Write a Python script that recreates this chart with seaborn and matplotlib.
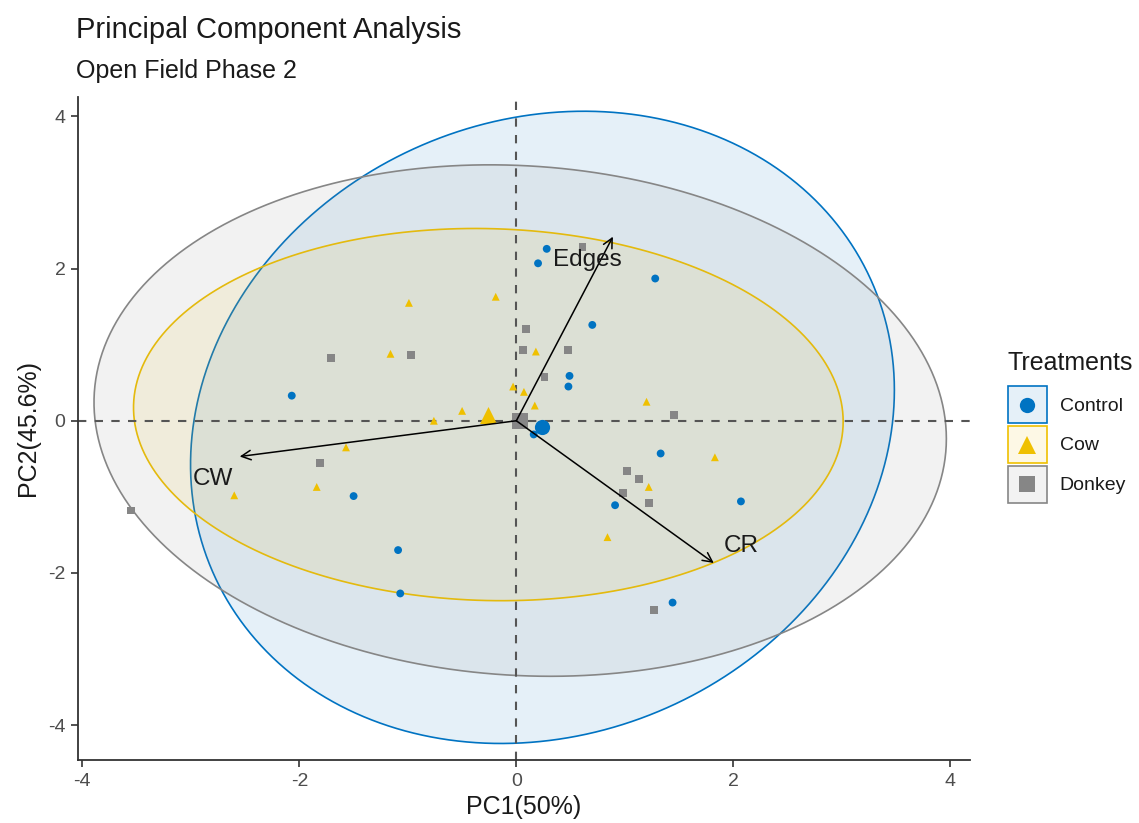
import numpy as np
import pandas as pd
import matplotlib
matplotlib.use("Agg")
import matplotlib.pyplot as plt
from matplotlib.lines import Line2D
from matplotlib.patches import Rectangle
from matplotlib.legend_handler import HandlerBase
from matplotlib.colors import to_rgba
import seaborn as sns

# ---- individual scores on the first two principal components ----
control_pc1 = [-2.07, 0.28, 0.20, 1.28, 0.70, 0.49, 0.48, 1.33, 0.91, 2.07,
               1.44, 0.16, -1.50, -1.09, -1.07]
control_pc2 = [0.33, 2.26, 2.07, 1.87, 1.26, 0.59, 0.45, -0.43, -1.11, -1.06,
               -2.39, -0.18, -0.99, -1.70, -2.27]

cow_pc1 = [-0.99, -0.19, -1.16, -0.50, -0.76, -0.03, 0.18, 0.07, 0.17, 1.20,
           1.83, 1.22, 0.84, -1.57, -1.84, -2.60]
cow_pc2 = [1.55, 1.63, 0.88, 0.13, 0.00, 0.45, 0.91, 0.38, 0.20, 0.25,
           -0.48, -0.87, -1.53, -0.35, -0.87, -0.98]

donkey_pc1 = [-1.71, -0.97, 0.09, 0.06, 0.48, 0.26, 0.61, 1.45, 1.02, 1.13,
              0.98, 1.22, 1.27, -1.81, -3.55]
donkey_pc2 = [0.83, 0.87, 1.21, 0.93, 0.93, 0.58, 2.28, 0.08, -0.66, -0.76,
              -0.95, -1.08, -2.49, -0.55, -1.18]

treatments = ["Control", "Cow", "Donkey"]

# ---- variable loadings (arrows) ----
variables = ["Edges", "CW", "CR"]
var_pc1 = [0.89, -2.55, 1.82]
var_pc2 = [2.42, -0.47, -1.87]

x_ticks = [-4, -2, 0, 2, 4]
y_ticks = [-4, -2, 0, 2, 4]

# ---- styling ----
palette = {"Control": "#0073C2", "Cow": "#EFC000", "Donkey": "#868686"}
markers = {"Control": "o", "Cow": "^", "Donkey": "s"}
label_offsets = {"Edges": (-18.5, -16.5), "CW": (-19.5, -16.5), "CR": (19.5, 12.0)}

df = pd.concat([
    pd.DataFrame({"PC1": control_pc1, "PC2": control_pc2, "Treatments": "Control"}),
    pd.DataFrame({"PC1": cow_pc1, "PC2": cow_pc2, "Treatments": "Cow"}),
    pd.DataFrame({"PC1": donkey_pc1, "PC2": donkey_pc2, "Treatments": "Donkey"}),
], ignore_index=True)

sns.set_theme(style="white")
plt.rcParams["font.family"] = ["Liberation Sans", "DejaVu Sans"]


def norm_ellipse(x, y, level=0.95, segments=240):
    """95% normal data ellipse (same construction as ggplot2 stat_ellipse type='norm')."""
    x = np.asarray(x, float)
    y = np.asarray(y, float)
    n = len(x)
    center = np.array([x.mean(), y.mean()])
    cov = np.cov(np.vstack([x, y]))
    dfd = n - 1
    qf = (dfd / 2.0) * ((1.0 - level) ** (-2.0 / dfd) - 1.0)
    radius = np.sqrt(2.0 * qf)
    t = np.linspace(0, 2 * np.pi, segments)
    circle = np.vstack([np.cos(t), np.sin(t)])
    L = np.linalg.cholesky(cov)
    pts = center[:, None] + radius * (L @ circle)
    return pts[0], pts[1]


class GroupKey:
    """Legend key: ellipse-coloured box with the group marker in its centre."""
    def __init__(self, color, marker, size):
        self.color = color
        self.marker = marker
        self.size = size


class GroupKeyHandler(HandlerBase):
    def create_artists(self, legend, orig_handle, xdescent, ydescent,
                       width, height, fontsize, trans):
        k = orig_handle
        rect = Rectangle((-xdescent, -ydescent), width, height,
                         facecolor=to_rgba(k.color, 0.1), edgecolor=k.color,
                         linewidth=1.2, transform=trans)
        mk = Line2D([-xdescent + width / 2], [-ydescent + height / 2],
                    marker=k.marker, linestyle="", color=k.color,
                    markersize=k.size, markeredgewidth=0, transform=trans)
        return [rect, mk]


fig = plt.figure(figsize=(11.39, 8.23), dpi=100)
ax = fig.add_axes([0.0685, 0.0765, 0.783, 0.806])

# confidence ellipses per group
for g in treatments:
    sub = df[df["Treatments"] == g]
    ex, ey = norm_ellipse(sub["PC1"], sub["PC2"])
    ax.fill(ex, ey, facecolor=to_rgba(palette[g], 0.1), edgecolor=palette[g],
            linewidth=1.2, zorder=1)

# reference lines
ax.axhline(0, color="#555555", linestyle=(0, (4, 4)), linewidth=1.5, zorder=2)
ax.axvline(0, color="#555555", linestyle=(0, (4, 4)), linewidth=1.5, zorder=2)

# individuals
sns.scatterplot(data=df, x="PC1", y="PC2", hue="Treatments", style="Treatments",
                hue_order=treatments, style_order=treatments,
                palette=palette, markers=markers, s=32, linewidth=0,
                legend=False, ax=ax, zorder=3)

# group centroids
cent = df.groupby("Treatments")[["PC1", "PC2"]].mean().reindex(treatments)
for g in treatments:
    ax.scatter(cent.loc[g, "PC1"], cent.loc[g, "PC2"], marker=markers[g],
               s=120 if g != "Cow" else 150, color=palette[g], linewidth=0, zorder=4)

# variable arrows
for name, vx, vy in zip(variables, var_pc1, var_pc2):
    ax.annotate("", xy=(vx, vy), xytext=(0, 0),
                arrowprops=dict(arrowstyle="->", color="black", lw=1.1,
                                mutation_scale=17, shrinkA=0, shrinkB=0),
                zorder=5)
    ax.annotate(name, xy=(vx, vy), xytext=label_offsets[name],
                textcoords="offset points", ha="center", va="center",
                fontsize=17.5, color="#1a1a1a", zorder=6)

# axes styling (classic theme)
ax.set_xlim(-4.04, 4.18)
ax.set_ylim(-4.46, 4.26)
ax.set_xticks(x_ticks)
ax.set_yticks(y_ticks)
ax.set_xticklabels([str(v) for v in x_ticks])
ax.set_yticklabels([str(v) for v in y_ticks])
for side in ["top", "right"]:
    ax.spines[side].set_visible(False)
for side in ["left", "bottom"]:
    ax.spines[side].set_color("#333333")
    ax.spines[side].set_linewidth(1.3)
ax.tick_params(axis="both", direction="out", length=5, width=1.2, color="#333333",
               labelsize=14, labelcolor="#4D4D4D", pad=4, bottom=True, left=True)
ax.grid(False)
ax.set_facecolor("white")
ax.set_xlabel("PC1(50%)", fontsize=18, color="#1a1a1a", labelpad=4)
ax.set_ylabel("PC2(45.6%)", fontsize=18, color="#1a1a1a", labelpad=6)

fig.text(0.0667, 1 - 30 / 823, "Principal Component Analysis", fontsize=21,
         color="#1a1a1a", ha="left", va="center")
fig.text(0.0667, 1 - 71 / 823, "Open Field Phase 2", fontsize=18,
         color="#1a1a1a", ha="left", va="center")

# legend
keys = [GroupKey(palette[g], markers[g], 11 if g != "Cow" else 13) for g in treatments]
leg = fig.legend(keys, treatments, title="Treatments", loc="upper left",
                 bbox_to_anchor=(1008 / 1139, 1 - 351 / 823), frameon=False,
                 handler_map={GroupKey: GroupKeyHandler()},
                 handlelength=2.0, handleheight=2.55, handletextpad=0.65,
                 labelspacing=0.15, fontsize=14, title_fontsize=18,
                 borderaxespad=0, borderpad=0)
leg._legend_box.align = "left"
leg._legend_box.sep = 8
for txt in leg.get_texts():
    txt.set_color("#1a1a1a")
leg.get_title().set_color("#1a1a1a")

fig.savefig("out.png", dpi=100, facecolor="white")
